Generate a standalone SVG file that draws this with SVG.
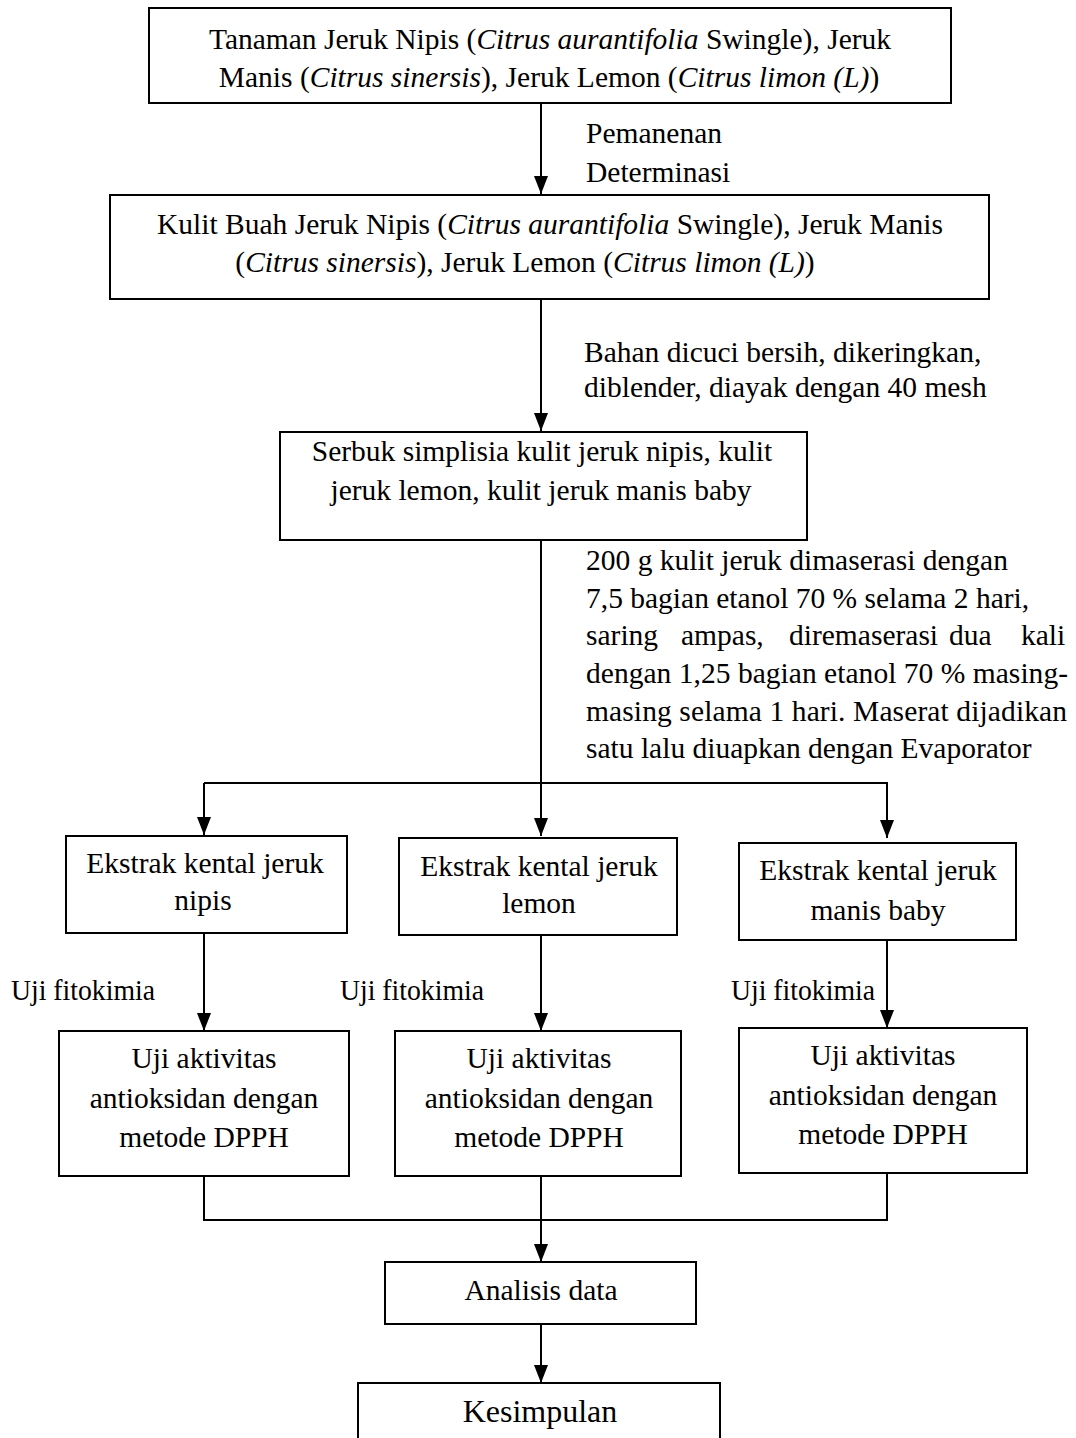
<svg xmlns="http://www.w3.org/2000/svg" width="1076" height="1438" viewBox="0 0 1076 1438">
<defs>
<style>
.box{fill:#fff;stroke:#000;stroke-width:2}
.ln{fill:none;stroke:#000;stroke-width:2}
text{font-family:"Liberation Serif","Times New Roman",serif;font-size:29.5px;fill:#000}
.c{text-anchor:middle}
.i{font-style:italic}
</style>
<marker id="ad" markerWidth="18" markerHeight="14" refX="18" refY="7" orient="auto" markerUnits="userSpaceOnUse" viewBox="0 0 18 14">
<path d="M0,0 L18,7 L0,14 Z" fill="#000"/>
</marker>
</defs>
<rect width="1076" height="1438" fill="#fff"/>

<g id="connectors">
<line class="ln" x1="541" y1="103" x2="541" y2="194" marker-end="url(#ad)"/>
<line class="ln" x1="541" y1="299" x2="541" y2="431" marker-end="url(#ad)"/>
<line class="ln" x1="541" y1="540" x2="541" y2="836" marker-end="url(#ad)"/>
<polyline class="ln" points="204,783 887,783 887,838" marker-end="url(#ad)"/>
<line class="ln" x1="204" y1="783" x2="204" y2="835" marker-end="url(#ad)"/>
<line class="ln" x1="204" y1="933" x2="204" y2="1031" marker-end="url(#ad)"/>
<line class="ln" x1="541" y1="935" x2="541" y2="1031" marker-end="url(#ad)"/>
<line class="ln" x1="887" y1="940" x2="887" y2="1028" marker-end="url(#ad)"/>
<polyline class="ln" points="204,1176 204,1220 887,1220 887,1173"/>
<line class="ln" x1="541" y1="1176" x2="541" y2="1262" marker-end="url(#ad)"/>
<line class="ln" x1="541" y1="1324" x2="541" y2="1383" marker-end="url(#ad)"/>
<text x="586" y="143">Pemanenan</text>
<text x="586" y="182">Determinasi</text>
<text x="584" y="362">Bahan dicuci bersih, dikeringkan,</text>
<text x="584" y="397">diblender, diayak dengan 40 mesh</text>
<text x="586" y="570">200 g kulit jeruk dimaserasi dengan</text>
<text x="586" y="608">7,5 bagian etanol 70 % selama 2 hari,</text>
<text y="645"><tspan x="586">saring</tspan><tspan x="681">ampas,</tspan><tspan x="789">diremaserasi</tspan><tspan x="949">dua</tspan><tspan x="1021">kali</tspan></text>
<text x="586" y="683" textLength="482" lengthAdjust="spacing">dengan 1,25 bagian etanol 70 % masing-</text>
<text x="586" y="721" textLength="481" lengthAdjust="spacing">masing selama 1 hari. Maserat dijadikan</text>
<text x="586" y="758">satu lalu diuapkan dengan Evaporator</text>
<text x="11" y="1000" textLength="144" lengthAdjust="spacingAndGlyphs">Uji fitokimia</text>
<text x="340" y="1000" textLength="144" lengthAdjust="spacingAndGlyphs">Uji fitokimia</text>
<text x="731" y="1000" textLength="144" lengthAdjust="spacingAndGlyphs">Uji fitokimia</text>
</g>

<g id="n1">
<rect class="box" x="149" y="8" width="802" height="95"/>
<text class="c" x="550" y="49">Tanaman Jeruk Nipis (<tspan class="i">Citrus aurantifolia</tspan> Swingle), Jeruk</text>
<text class="c" x="549" y="87">Manis (<tspan class="i">Citrus sinersis</tspan>), Jeruk Lemon (<tspan class="i">Citrus limon (L)</tspan>)</text>
</g>
<g id="n2">
<rect class="box" x="110" y="195" width="879" height="104"/>
<text class="c" x="550" y="234">Kulit Buah Jeruk Nipis (<tspan class="i">Citrus aurantifolia</tspan> Swingle), Jeruk Manis</text>
<text class="c" x="525" y="272">(<tspan class="i">Citrus sinersis</tspan>), Jeruk Lemon (<tspan class="i">Citrus limon (L)</tspan>)</text>
</g>
<g id="n3">
<rect class="box" x="280" y="432" width="527" height="108"/>
<text class="c" x="542" y="461">Serbuk simplisia kulit jeruk nipis, kulit</text>
<text class="c" x="541" y="500">jeruk lemon, kulit jeruk manis baby</text>
</g>
<g id="n4">
<rect class="box" x="66" y="836" width="281" height="97"/>
<text class="c" x="205" y="873">Ekstrak kental jeruk</text>
<text class="c" x="203" y="910">nipis</text>
</g>
<g id="n5">
<rect class="box" x="399" y="838" width="278" height="97"/>
<text class="c" x="539" y="876">Ekstrak kental jeruk</text>
<text class="c" x="539" y="913">lemon</text>
</g>
<g id="n6">
<rect class="box" x="739" y="843" width="277" height="97"/>
<text class="c" x="878" y="880">Ekstrak kental jeruk</text>
<text class="c" x="878" y="920">manis baby</text>
</g>
<g id="n7">
<rect class="box" x="59" y="1031" width="290" height="145"/>
<text class="c" x="204" y="1068">Uji aktivitas</text>
<text class="c" x="204" y="1108">antioksidan dengan</text>
<text class="c" x="204" y="1147">metode DPPH</text>
</g>
<g id="n8">
<rect class="box" x="395" y="1031" width="286" height="145"/>
<text class="c" x="539" y="1068">Uji aktivitas</text>
<text class="c" x="539" y="1108">antioksidan dengan</text>
<text class="c" x="539" y="1147">metode DPPH</text>
</g>
<g id="n9">
<rect class="box" x="739" y="1028" width="288" height="145"/>
<text class="c" x="883" y="1065">Uji aktivitas</text>
<text class="c" x="883" y="1105">antioksidan dengan</text>
<text class="c" x="883" y="1144">metode DPPH</text>
</g>
<g id="n10">
<rect class="box" x="385" y="1262" width="311" height="62"/>
<text class="c" x="541" y="1300">Analisis data</text>
</g>
<g id="n11">
<rect class="box" x="358" y="1383" width="362" height="70"/>
<text class="c" x="540" y="1422" style="font-size:32px">Kesimpulan</text>
</g>
</svg>
